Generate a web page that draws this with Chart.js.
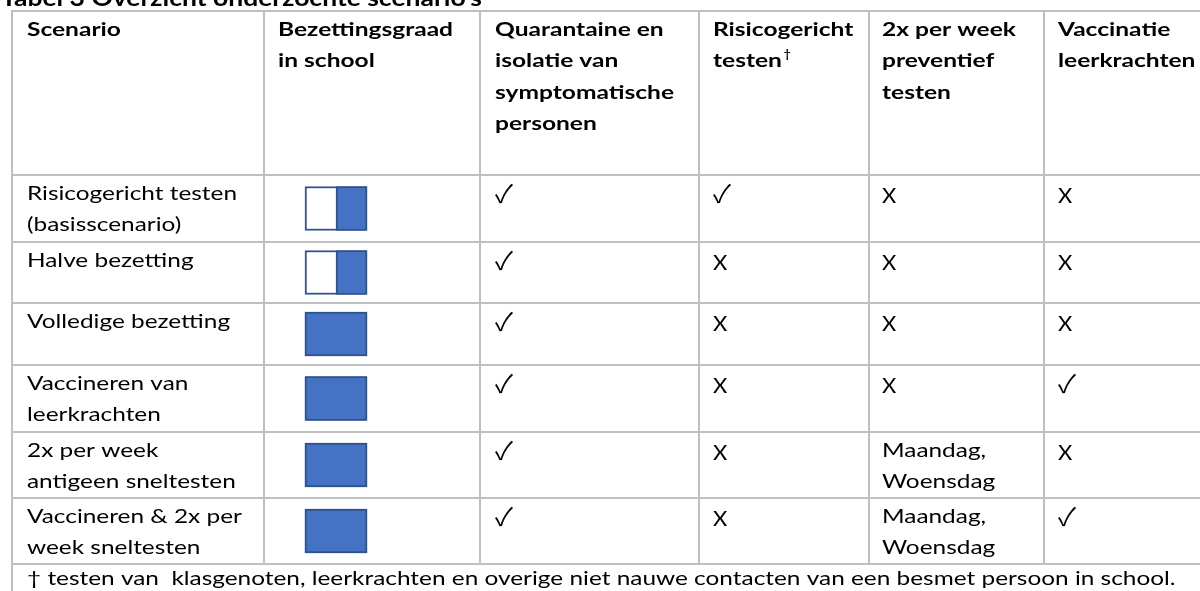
<!DOCTYPE html>
<html><head><meta charset="utf-8">
<script src="https://cdn.jsdelivr.net/npm/chart.js@4.4.0/dist/chart.umd.min.js"></script>
<style>html,body{margin:0;padding:0;background:#fff;overflow:hidden}#wrap{width:1200px;height:591px;position:relative}</style>
</head><body><div id="wrap"><canvas id="c"></canvas></div>
<script>
// ---------- data ----------
const title = "Tabel 3 Overzicht onderzochte scenario's";
const headers = [["Scenario"],["Bezettingsgraad","in school"],["Quarantaine en","isolatie van","symptomatische","personen"],["Risicogericht","testen"],["2x per week","preventief","testen"],["Vaccinatie","leerkrachten"]];
const headerNoteCol = 3; // "testen" gets the † superscript
const scenarios = [["Risicogericht testen","(basisscenario)"],["Halve bezetting"],["Volledige bezetting"],["Vaccineren van","leerkrachten"],["2x per week","antigeen sneltesten"],["Vaccineren & 2x per","week sneltesten"]];
const occupancy = [0.5, 0.5, 1, 1, 1, 1];
const quarantine = ["✓","✓","✓","✓","✓","✓"];
const riskTesting = ["✓","X","X","X","X","X"];
const preventiveTesting = [["X"],["X"],["X"],["X"],["Maandag,","Woensdag"],["Maandag,","Woensdag"]];
const teacherVaccination = ["X","X","X","✓","X","✓"];
const footnote = "† testen van  klasgenoten, leerkrachten en overige niet nauwe contacten van een besmet persoon in school.";

// ---------- layout ----------
const COL = [12, 264, 480, 699, 869, 1044, 1240];
const ROW = [11, 175, 242, 303, 365, 432, 498, 564, 640];
const TEXT_X = [27, 278, 495, 713, 882, 1058];
const BOX_LEFT = 305, BOX_W = 62, BOX_H = 44;
const FIRST_BASE = 25, LINE_H = 31.3;
const GRID = '#bfbfbf', BOX_BORDER = '#2f528f', BOX_FILL = '#4472c4';
const FONT = 'Lato, "Open Sans", sans-serif';
const CHECK_FONT = '400 25px "Noto Sans CJK JP", "DejaVu Sans", sans-serif';

const rowCenter = i => (ROW[i + 1] + ROW[i + 2]) / 2;

const frameData = occupancy.map((o, i) => ({ y: rowCenter(i), x: [BOX_LEFT, BOX_LEFT + BOX_W] }));
const occData = occupancy.map((o, i) => ({ y: rowCenter(i), x: [BOX_LEFT + BOX_W * (1 - o), BOX_LEFT + BOX_W] }));

const tablePlugin = {
  id: 'tablePlugin',
  beforeDatasetsDraw(chart) {
    const { ctx, scales: { x, y } } = chart;
    ctx.save();
    ctx.strokeStyle = GRID; ctx.lineWidth = 2;
    ctx.beginPath();
    for (let r = 0; r <= 7; r++) {
      const py = y.getPixelForValue(ROW[r]);
      ctx.moveTo(x.getPixelForValue(COL[0]) - 1, py);
      ctx.lineTo(x.getPixelForValue(COL[6]), py);
    }
    ctx.moveTo(x.getPixelForValue(COL[0]), y.getPixelForValue(ROW[0]) - 1);
    ctx.lineTo(x.getPixelForValue(COL[0]), y.getPixelForValue(ROW[8]));
    for (let c = 1; c <= 5; c++) {
      const px = x.getPixelForValue(COL[c]);
      ctx.moveTo(px, y.getPixelForValue(ROW[0]) - 1);
      ctx.lineTo(px, y.getPixelForValue(ROW[7]) + 1);
    }
    ctx.stroke();
    ctx.restore();
  },
  afterDatasetsDraw(chart) {
    const { ctx, scales: { x, y } } = chart;
    ctx.save();
    ctx.fillStyle = '#000';
    ctx.textBaseline = 'alphabetic';
    const fit = (font, sample, target) => { ctx.font = font; return target / ctx.measureText(sample).width; };
    const fReg = '19px ' + FONT, fBold = 'bold 19px ' + FONT, fTitle = 'bold 22px ' + FONT;
    const sReg = fit(fReg, 'Risicogericht testen', 210);
    const sBold = fit(fBold, 'Bezettingsgraad', 175);
    const sTitle = fit(fTitle, title, 481);
    const sCheck = fit(CHECK_FONT, '✓', 18);
    const draw = (t, px, py, font, sx) => {
      ctx.font = font;
      ctx.save(); ctx.translate(px, py); ctx.scale(sx, 1); ctx.fillText(t, 0, 0); ctx.restore();
      return ctx.measureText(t).width * sx;
    };
    const X = v => x.getPixelForValue(v), Y = v => y.getPixelForValue(v);
    draw(title, X(1), Y(6), fTitle, sTitle);
    headers.forEach((lines, c) => {
      lines.forEach((t, k) => {
        const w = draw(t, X(TEXT_X[c]), Y(ROW[0] + FIRST_BASE + k * LINE_H), fBold, sBold);
        if (c === headerNoteCol && k === lines.length - 1) {
          draw('†', X(TEXT_X[c]) + w + 2, Y(ROW[0] + FIRST_BASE + k * LINE_H - 9), 'bold 12px ' + FONT, 1);
        }
      });
    });
    const cell = (val, c, r) => {
      const lines = Array.isArray(val) ? val : [val];
      lines.forEach((t, k) => {
        const by = Y(ROW[r + 1] + FIRST_BASE + k * LINE_H);
        if (t === '✓') draw(t, X(TEXT_X[c]), by + 3, CHECK_FONT, Math.min(sCheck, 1.4));
        else if (t === 'X') draw(t, X(TEXT_X[c]), by + 3, '21px ' + FONT, 1.05);
        else draw(t, X(TEXT_X[c]), by, fReg, sReg);
      });
    };
    scenarios.forEach((v, r) => cell(v, 0, r));
    quarantine.forEach((v, r) => cell(v, 2, r));
    riskTesting.forEach((v, r) => cell(v, 3, r));
    preventiveTesting.forEach((v, r) => cell(v, 4, r));
    teacherVaccination.forEach((v, r) => cell(v, 5, r));
    draw(footnote, X(TEXT_X[0]), Y(ROW[7] + 21), fReg, sReg);
    ctx.restore();
  }
};

function build() {
  new Chart(document.getElementById('c'), {
    type: 'bar',
    data: {
      datasets: [
        { label: 'bezetting', data: occData, backgroundColor: BOX_FILL, borderColor: BOX_BORDER, borderWidth: 2, borderSkipped: false, barThickness: BOX_H, grouped: false, order: 0 },
        { label: 'capaciteit', data: frameData, backgroundColor: '#ffffff', borderColor: BOX_BORDER, borderWidth: 2, borderSkipped: false, barThickness: BOX_H, grouped: false, order: 1 }
      ]
    },
    options: {
      indexAxis: 'y',
      responsive: true, maintainAspectRatio: false, animation: false, events: [],
      layout: { padding: 0 },
      plugins: { legend: { display: false }, tooltip: { enabled: false }, title: { display: false } },
      scales: {
        x: { type: 'linear', min: 0, max: 1200, display: false, offset: false },
        y: { type: 'linear', min: 0, max: 591, reverse: true, display: false, offset: false }
      }
    },
    plugins: [tablePlugin]
  });
}
Promise.all([
  document.fonts.load('19px Lato'), document.fonts.load('bold 19px Lato'), document.fonts.load(CHECK_FONT, '✓')
]).then(build, build);
</script></body></html>
